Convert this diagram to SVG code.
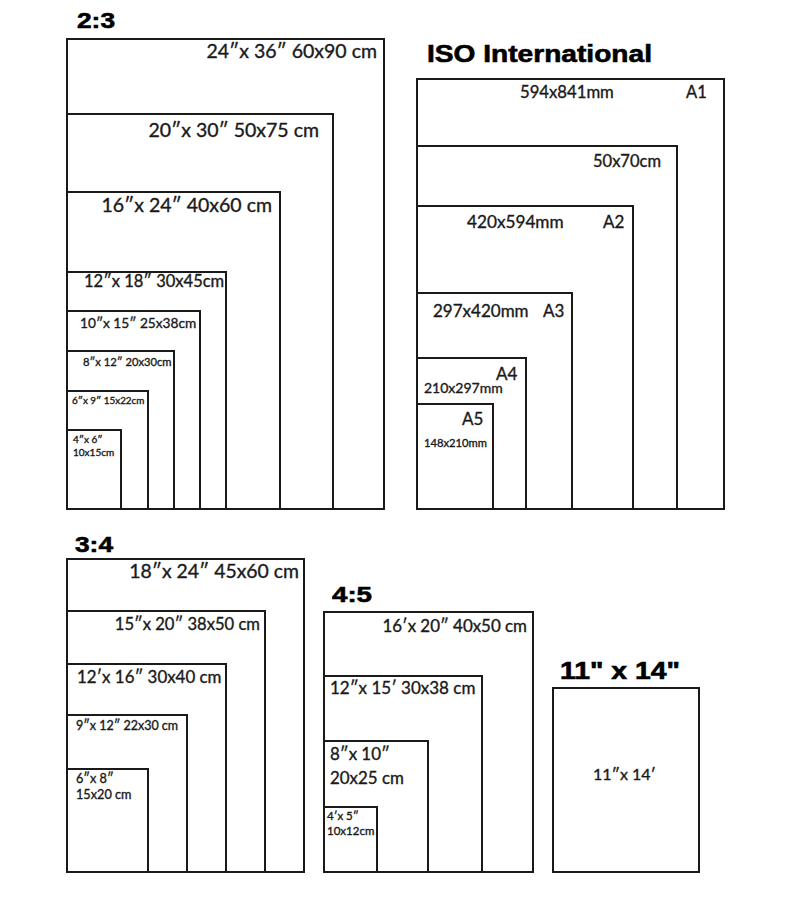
<svg xmlns="http://www.w3.org/2000/svg" width="794" height="905" viewBox="0 0 794 905">
<style>
.f{fill:none;stroke:#1a1a1a;stroke-width:2}
.t{font-family:Lato,"Liberation Sans",sans-serif;fill:#1a1a1a;stroke:#1a1a1a;stroke-width:0.35}
.h{font-family:"Liberation Sans",Arial,sans-serif;font-weight:bold;fill:#000;stroke:#000;stroke-width:0.6}
.e{text-anchor:end}
</style>
<rect width="794" height="905" fill="#fff"/>
<!-- 2:3 -->
<text class="h" x="77" y="28" font-size="22" textLength="38" lengthAdjust="spacingAndGlyphs">2:3</text>
<g id="r24x36"><rect class="f" x="67" y="39" width="317" height="470"/><text class="t e" x="377" y="58" font-size="19.5">24″x 36″ 60x90 cm</text></g>
<g id="r20x30"><rect class="f" x="67" y="114" width="266" height="395"/><text class="t e" x="319" y="137" font-size="19.5">20″x 30″ 50x75 cm</text></g>
<g id="r16x24"><rect class="f" x="67" y="192" width="213" height="317"/><text class="t e" x="272" y="212" font-size="19.5">16″x 24″ 40x60 cm</text></g>
<g id="r12x18"><rect class="f" x="67" y="272" width="159" height="237"/><text class="t" x="84" y="287" font-size="16.5">12″x 18″ 30x45cm</text></g>
<g id="r10x15"><rect class="f" x="67" y="311" width="133" height="198"/><text class="t" x="80" y="328" font-size="13.7">10″x 15″ 25x38cm</text></g>
<g id="r8x12"><rect class="f" x="67" y="351" width="107" height="158"/><text class="t" x="83" y="366" font-size="11.2">8″x 12″ 20x30cm</text></g>
<g id="r6x9"><rect class="f" x="67" y="391" width="81" height="118"/><text class="t" x="72" y="404" font-size="9.9">6″x 9″ 15x22cm</text></g>
<g id="r4x6"><rect class="f" x="67" y="430" width="54" height="79"/><text class="t" x="73" y="443" font-size="10">4″x 6″</text><text class="t" x="73" y="456" font-size="10">10x15cm</text></g>
<!-- ISO -->
<text class="h" x="427" y="62" font-size="24" textLength="225" lengthAdjust="spacingAndGlyphs">ISO International</text>
<g id="A1"><rect class="f" x="417" y="79" width="307" height="430"/><text class="t" x="520" y="98" font-size="16.7">594x841mm</text><text class="t" x="686" y="98" font-size="16.5">A1</text></g>
<g id="c50x70"><rect class="f" x="417" y="146" width="260" height="363"/><text class="t" x="593" y="167" font-size="16.5">50x70cm</text></g>
<g id="A2"><rect class="f" x="417" y="206" width="216" height="303"/><text class="t" x="467" y="228" font-size="17.2">420x594mm</text><text class="t" x="603" y="228" font-size="17">A2</text></g>
<g id="A3"><rect class="f" x="417" y="293" width="155" height="216"/><text class="t" x="433" y="317" font-size="17">297x420mm</text><text class="t" x="543" y="317" font-size="17">A3</text></g>
<g id="A4"><rect class="f" x="417" y="358" width="109" height="151"/><text class="t" x="496" y="380" font-size="17">A4</text><text class="t" x="424" y="393" font-size="14">210x297mm</text></g>
<g id="A5"><rect class="f" x="417" y="404" width="76" height="105"/><text class="t" x="462" y="425" font-size="17">A5</text><text class="t" x="424" y="447" font-size="11.2">148x210mm</text></g>
<!-- 3:4 -->
<text class="h" x="75" y="552" font-size="22" textLength="38" lengthAdjust="spacingAndGlyphs">3:4</text>
<g id="r18x24"><rect class="f" x="67" y="559" width="237" height="313"/><text class="t e" x="299" y="578" font-size="19.4">18″x 24″ 45x60 cm</text></g>
<g id="r15x20"><rect class="f" x="67" y="611" width="198" height="261"/><text class="t e" x="260" y="630" font-size="16.6">15″x 20″ 38x50 cm</text></g>
<g id="r12x16"><rect class="f" x="67" y="664" width="159" height="208"/><text class="t" x="77" y="683" font-size="16.9">12′x 16″ 30x40 cm</text></g>
<g id="r9x12"><rect class="f" x="67" y="715" width="120" height="157"/><text class="t" x="76" y="730" font-size="12.5">9″x 12″ 22x30 cm</text></g>
<g id="r6x8"><rect class="f" x="67" y="769" width="81" height="103"/><text class="t" x="76" y="783" font-size="12.7">6″x 8″</text><text class="t" x="76" y="799" font-size="12.7">15x20 cm</text></g>
<!-- 4:5 -->
<text class="h" x="332" y="602" font-size="22" textLength="40" lengthAdjust="spacingAndGlyphs">4:5</text>
<g id="r16x20"><rect class="f" x="324" y="612" width="209" height="260"/><text class="t e" x="527" y="632" font-size="16.9">16′x 20″ 40x50 cm</text></g>
<g id="r12x15"><rect class="f" x="324" y="676" width="158" height="196"/><text class="t" x="330" y="694" font-size="17">12″x 15′ 30x38 cm</text></g>
<g id="r8x10"><rect class="f" x="324" y="741" width="104" height="131"/><text class="t" x="330" y="760" font-size="16.9">8″x 10″</text><text class="t" x="330" y="784" font-size="16.9">20x25 cm</text></g>
<g id="r4x5"><rect class="f" x="324" y="807" width="53" height="65"/><text class="t" x="327" y="820" font-size="11.5">4′x 5″</text><text class="t" x="327" y="835" font-size="11.5">10x12cm</text></g>
<!-- 11x14 -->
<text class="h" x="560" y="679" font-size="23" textLength="120" lengthAdjust="spacingAndGlyphs">11" x 14"</text>
<g id="r11x14"><rect class="f" x="553" y="688" width="146" height="184"/><text class="t" x="593" y="780" font-size="16">11″x 14′</text></g>
</svg>
